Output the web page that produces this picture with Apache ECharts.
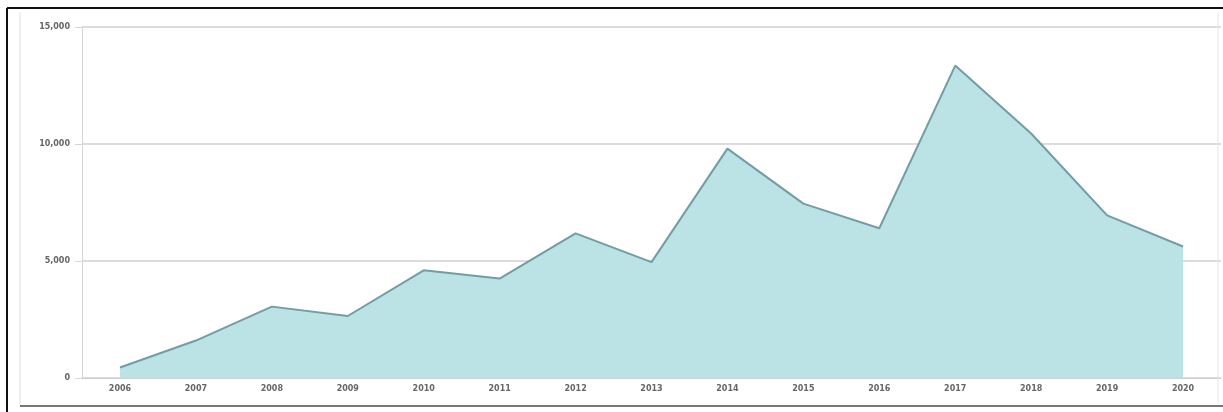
<!DOCTYPE html>
<html>
<head>
<meta charset="utf-8">
<script src="https://cdn.jsdelivr.net/npm/echarts@6/dist/echarts.min.js"></script>
<style>
html,body{margin:0;padding:0;background:#fff;}
#chart{width:1223px;height:412px;}
</style>
</head>
<body>
<div id="chart"></div>
<script>
const years = ['2006','2007','2008','2009','2010','2011','2012','2013','2014','2015','2016','2017','2018','2019','2020'];
const values = [450, 1600, 3050, 2650, 4600, 4250, 6180, 4950, 9800, 7450, 6400, 13350, 10450, 6950, 5620];
const yTicks = [0, 5000, 10000, 15000];

const chart = echarts.init(document.getElementById('chart'));
chart.setOption({
  animation: false,
  backgroundColor: '#fff',
  grid: { left: 82, right: 2, top: 27, bottom: 34, containLabel: false },
  xAxis: {
    type: 'category',
    data: years,
    boundaryGap: true,
    axisLine: { show: true, lineStyle: { color: '#cfcfcf', width: 1 } },
    axisTick: { show: false },
    axisLabel: { color: '#666', fontSize: 8, fontFamily: 'DejaVu Sans', fontWeight: 'bold', margin: 7 }
  },
  yAxis: {
    type: 'value',
    min: yTicks[0],
    max: yTicks[yTicks.length - 1],
    interval: 5000,
    axisLine: { show: true, lineStyle: { color: '#d6d6d6', width: 1 } },
    axisTick: { show: true, length: 7, lineStyle: { color: '#d6d6d6' } },
    splitLine: { show: true, lineStyle: { color: '#dcdcdc', width: 2 } },
    axisLabel: {
      color: '#666', fontSize: 8, fontFamily: 'DejaVu Sans', fontWeight: 'bold', margin: 12,
      formatter: v => v.toLocaleString('en-US')
    }
  },
  series: [{
    type: 'line',
    data: values,
    symbol: 'none',
    lineStyle: { color: '#6f9ea4', width: 2 },
    areaStyle: { color: '#bbe2e5', opacity: 1 },
    z: 3
  }],
  graphic: [
    { type: 'line', shape: { x1: 7, y1: 8, x2: 1223, y2: 8 }, style: { stroke: '#111', lineWidth: 2 }, z: 100 },
    { type: 'line', shape: { x1: 7, y1: 8, x2: 7, y2: 412 }, style: { stroke: '#111', lineWidth: 2 }, z: 100 },
    { type: 'line', shape: { x1: 20, y1: 12, x2: 20, y2: 406 }, style: { stroke: '#e0e0e0', lineWidth: 1 }, z: 100 },
    { type: 'line', shape: { x1: 20, y1: 406, x2: 1223, y2: 406 }, style: { stroke: '#777', lineWidth: 2 }, z: 100 },
    { type: 'line', shape: { x1: 1218, y1: 12, x2: 1218, y2: 404 }, style: { stroke: '#e6e6e6', lineWidth: 1 }, z: 100 }
  ]
});
</script>
</body>
</html>
